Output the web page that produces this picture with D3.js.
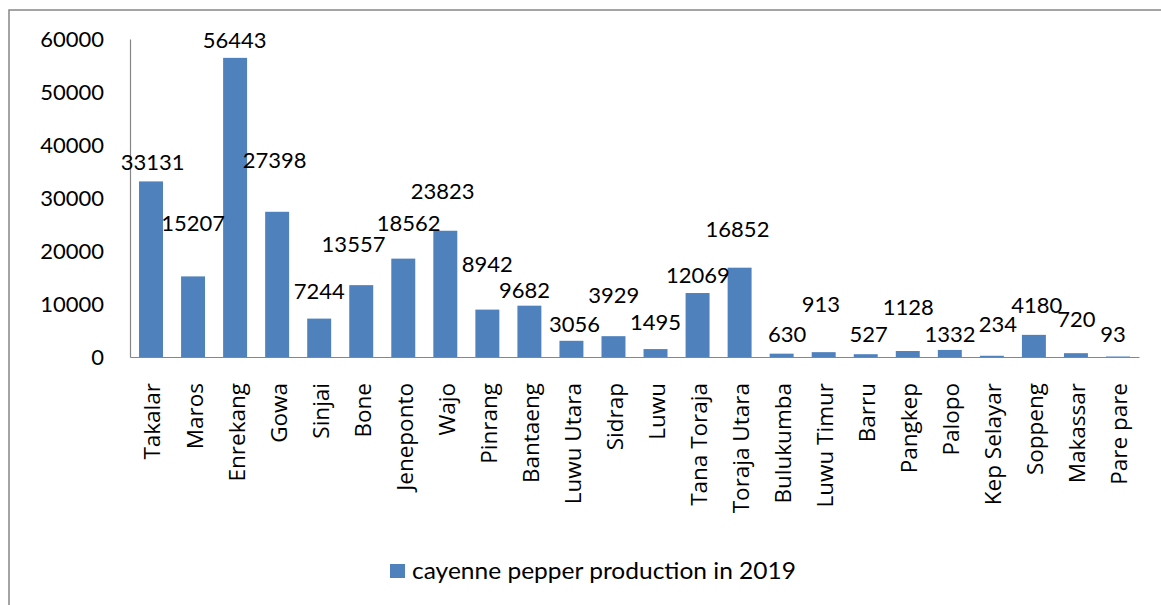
<!DOCTYPE html>
<html>
<head>
<meta charset="utf-8">
<script src="https://cdn.jsdelivr.net/npm/d3@7"></script>
<style>
  html, body { margin: 0; padding: 0; background: #fff; }
  svg { display: block; }
</style>
</head>
<body>
<svg id="chart" width="1161" height="605"></svg>
<script>
// ---- Data ----
const categories = ["Takalar","Maros","Enrekang","Gowa","Sinjai","Bone","Jeneponto","Wajo","Pinrang","Bantaeng","Luwu Utara","Sidrap","Luwu","Tana Toraja","Toraja Utara","Bulukumba","Luwu Timur","Barru","Pangkep","Palopo","Kep Selayar","Soppeng","Makassar","Pare pare"];
const production2019 = [33131,15207,56443,27398,7244,13557,18562,23823,8942,9682,3056,3929,1495,12069,16852,630,913,527,1128,1332,234,4180,720,93];
const yTicks = [0,10000,20000,30000,40000,50000,60000];
const seriesName = "cayenne pepper production in 2019";

// ---- Layout (label nudges, px, relative to default outside-end position) ----
const labelNudgeX = [1.7,0,-0.4,-2.6,0,-7.7,5.4,-2.6,-0.2,-4.9,3.1,0.4,0,0.4,-2.1,5.4,-2.7,2.8,0.5,0.1,6.1,2.8,0.5,-5];
const labelNudgeY = [-11.4,-45.7,-10.2,-43.5,-19.3,-33.4,-27.9,-31.4,-37.9,-7.4,-9.1,-33.5,-19,-9.7,-31,-12,-40.5,-11.9,-36,-7.6,-24.1,-22.1,-26.5,-14.2];

const barColor = "#4F81BD";
const axisColor = "#868686";
const numFont = "Lato, 'Open Sans', sans-serif";
const catFont = "'Open Sans', Lato, sans-serif";

const svg = d3.select("#chart");

// Chart area border (only left and top visible)
svg.append("rect")
  .attr("x", 9).attr("y", 10)
  .attr("width", 1300).attr("height", 800)
  .attr("fill", "none").attr("stroke", axisColor).attr("stroke-width", 1.5);

const x = d3.scaleBand()
  .domain(categories)
  .range([130, 1139])
  .paddingInner(0.43)
  .paddingOuter(0.215);

const y = d3.scaleLinear()
  .domain([0, 60000])
  .range([357, 39]);

// Y axis
const yAxis = svg.append("g")
  .attr("transform", "translate(130,0)")
  .call(d3.axisLeft(y).tickValues(yTicks).tickFormat(d3.format("d")).tickSize(0).tickPadding(26));
yAxis.select(".domain").attr("stroke", axisColor).attr("stroke-width", 1.2);
yAxis.selectAll("text")
  .attr("font-family", numFont)
  .attr("font-size", 22)
  .attr("fill", "#000");

// Bars
svg.append("g").selectAll("rect")
  .data(production2019)
  .join("rect")
  .attr("x", (d, i) => x(categories[i]))
  .attr("y", d => y(d))
  .attr("width", x.bandwidth())
  .attr("height", d => y(0) - y(d))
  .attr("fill", barColor);

// X axis
const xAxis = svg.append("g")
  .attr("transform", "translate(0,357)")
  .call(d3.axisBottom(x).tickSize(0).tickSizeOuter(0));
xAxis.select(".domain").attr("stroke", axisColor).attr("stroke-width", 1.2);
xAxis.selectAll("text")
  .attr("transform", "rotate(-90)")
  .attr("x", -26)
  .attr("y", 0)
  .attr("dy", "0.42em")
  .attr("text-anchor", "end")
  .attr("font-family", catFont)
  .attr("font-size", 22.5)
  .attr("fill", "#000");

// Data labels
svg.append("g").selectAll("text")
  .data(production2019)
  .join("text")
  .attr("x", (d, i) => x(categories[i]) + x.bandwidth() / 2 + labelNudgeX[i])
  .attr("y", (d, i) => y(d) + labelNudgeY[i])
  .attr("text-anchor", "middle")
  .attr("font-family", numFont)
  .attr("font-size", 22)
  .attr("fill", "#000")
  .text(d => d);

// Legend
const legend = svg.append("g").attr("transform", "translate(390,564)");
legend.append("rect")
  .attr("x", 0).attr("y", 0)
  .attr("width", 15).attr("height", 14)
  .attr("fill", barColor);
legend.append("text")
  .attr("x", 22).attr("y", 15)
  .attr("font-family", numFont)
  .attr("font-size", 23)
  .attr("textLength", 384)
  .attr("lengthAdjust", "spacingAndGlyphs")
  .attr("fill", "#000")
  .text(seriesName);
</script>
</body>
</html>
